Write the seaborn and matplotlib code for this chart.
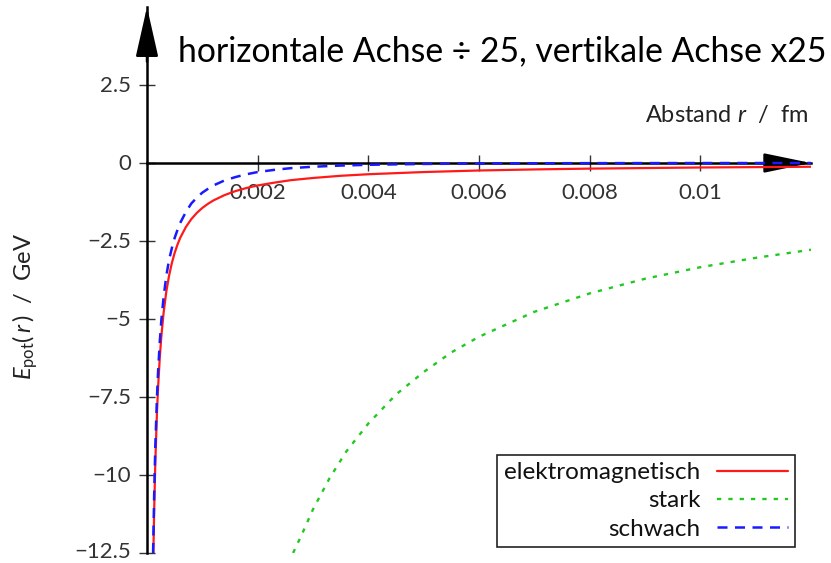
import matplotlib
matplotlib.use("Agg")
import matplotlib.pyplot as plt
import matplotlib.transforms as mtransforms
import seaborn as sns
import pandas as pd

# ---- data ----
r_em = [0.000115, 0.00013, 0.00015, 0.00018, 0.0002, 0.00023, 0.00026, 0.0003, 0.00035,
        0.0004, 0.00045, 0.0005, 0.00055, 0.0006, 0.0007, 0.0008, 0.0009, 0.001, 0.0011,
        0.0012, 0.0014, 0.0016, 0.0018, 0.002, 0.0023, 0.0026, 0.003, 0.0035, 0.004,
        0.005, 0.006, 0.007, 0.008, 0.01, 0.012]
e_em = [-12.5, -11.1, -9.6, -8.0, -7.2, -6.26, -5.54, -4.8, -4.11,
        -3.6, -3.2, -2.88, -2.62, -2.4, -2.06, -1.8, -1.6, -1.44, -1.31,
        -1.2, -1.03, -0.9, -0.8, -0.72, -0.63, -0.55, -0.48, -0.41, -0.36,
        -0.29, -0.24, -0.206, -0.18, -0.144, -0.12]

r_strong = [0.00264, 0.0028, 0.003, 0.0033, 0.0036, 0.004, 0.0045, 0.005, 0.0055,
            0.006, 0.007, 0.008, 0.009, 0.01, 0.011, 0.012]
e_strong = [-12.5, -11.9, -11.1, -10.1, -9.25, -8.35, -7.42, -6.7, -6.07,
            -5.57, -4.77, -4.18, -3.71, -3.34, -3.04, -2.78]

r_weak = [0.00011, 0.00013, 0.00015, 0.00018, 0.0002, 0.00023, 0.00026, 0.0003, 0.00035,
          0.0004, 0.00045, 0.0005, 0.00055, 0.0006, 0.0007, 0.0008, 0.0009, 0.001, 0.0011,
          0.0012, 0.0014, 0.0016, 0.0018, 0.002, 0.0023, 0.0026, 0.003, 0.0035, 0.004,
          0.005, 0.006, 0.007, 0.008, 0.01, 0.012]
e_weak = [-12.5, -10.6, -9.1, -7.5, -6.7, -5.75, -5.02, -4.3, -3.6,
          -3.1, -2.72, -2.4, -2.15, -1.92, -1.58, -1.3, -1.11, -0.95, -0.83,
          -0.72, -0.56, -0.45, -0.36, -0.29, -0.22, -0.165, -0.12, -0.082, -0.058,
          -0.03, -0.016, -0.009, -0.005, -0.0015, -0.0005]

series_labels = ["elektromagnetisch", "stark", "schwach"]
x_ticks = [0.002, 0.004, 0.006, 0.008, 0.01]
x_ticklabels = ["0.002", "0.004", "0.006", "0.008", "0.01"]
y_ticks = [2.5, 0, -2.5, -5, -7.5, -10, -12.5]
y_ticklabels = ["2.5", "0", "\u22122.5", "\u22125", "\u22127.5", "\u221210", "\u221212.5"]
title_text = "horizontale Achse \u00f7 25, vertikale Achse x25"

sns.set_theme(style="white")
plt.rcParams["font.family"] = ["Lato", "DejaVu Sans"]
plt.rcParams["mathtext.fontset"] = "custom"
plt.rcParams["mathtext.rm"] = "Lato"
plt.rcParams["mathtext.it"] = "Lato:italic"
plt.rcParams["mathtext.bf"] = "Lato:bold"

W, H = 831, 563
fig = plt.figure(figsize=(W / 100, H / 100), dpi=100)
left_px, right_px, top_px, bot_px = 147, 811, 7, 553
ax = fig.add_axes([left_px / W, 1 - bot_px / H, (right_px - left_px) / W, (bot_px - top_px) / H])

df_em = pd.DataFrame({"r": r_em, "E": e_em})
df_st = pd.DataFrame({"r": r_strong, "E": e_strong})
df_wk = pd.DataFrame({"r": r_weak, "E": e_weak})

sns.lineplot(data=df_em, x="r", y="E", ax=ax, color="#ff1a1a", lw=1.6,
             label=series_labels[0], zorder=3)
sns.lineplot(data=df_st, x="r", y="E", ax=ax, color="#22c822", lw=1.7,
             linestyle=(0, (1.8, 3.0)), label=series_labels[1], zorder=3)
sns.lineplot(data=df_wk, x="r", y="E", ax=ax, color="#1a1aff", lw=1.8,
             linestyle=(0, (4.0, 3.0)), label=series_labels[2], zorder=3.1)

ax.set_xlim(0, 0.012)
ax.set_ylim(-12.5, 5.0)

for s in ["top", "right"]:
    ax.spines[s].set_visible(False)
ax.spines["left"].set_position(("data", 0))
ax.spines["bottom"].set_position(("data", 0))
for s in ["left", "bottom"]:
    ax.spines[s].set_color("black")
    ax.spines[s].set_linewidth(1.8)
    ax.spines[s].set_zorder(2.5)

ax.set_xticks(x_ticks)
ax.set_xticklabels(x_ticklabels)
ax.set_yticks(y_ticks)
ax.set_yticklabels(y_ticklabels)
ax.tick_params(axis="both", direction="inout", length=11, width=1.0, color="#333333",
               labelsize=16, labelcolor="#333333")
ax.tick_params(axis="x", pad=9)
ax.tick_params(axis="y", pad=6)
ax.xaxis.set_ticks_position("bottom")
ax.yaxis.set_ticks_position("left")
ylabs = ax.get_yticklabels()
for i, lab in enumerate(ylabs):
    lab.set_verticalalignment("baseline")
    shift_px = 7.5 if i < len(ylabs) - 1 else 4.5
    lab.set_transform(lab.get_transform() +
                      mtransforms.ScaledTranslation(0, -shift_px / 100, fig.dpi_scale_trans))

# arrow heads on the axes
ax.annotate("", xy=(1.0, 0), xycoords=("axes fraction", "data"),
            xytext=(0.93, 0), textcoords=("axes fraction", "data"),
            arrowprops=dict(arrowstyle="-|>,head_length=29,head_width=6",
                            mutation_scale=1, color="black", lw=1.8, shrinkA=0, shrinkB=0),
            zorder=2.6)
ax.annotate("", xy=(0, 1.0), xycoords=("data", "axes fraction"),
            xytext=(0, 0.9), textcoords=("data", "axes fraction"),
            arrowprops=dict(arrowstyle="-|>,head_length=31,head_width=7",
                            mutation_scale=1, color="black", lw=1.8, shrinkA=0, shrinkB=0),
            zorder=2.6)

ax.set_xlabel("")
ax.set_ylabel(r"$E_{\mathrm{pot}}(\,r\,)$  /  GeV", fontsize=17, color="#222222")
ax.yaxis.label.set_verticalalignment("center")
ax.yaxis.set_label_coords((25 - left_px) / (right_px - left_px), (bot_px - 306) / (bot_px - top_px))

fig.text(808 / W, 1 - 115 / H, r"Abstand $r$  /  fm", ha="right", va="center",
         fontsize=17, color="#222222")

fig.text(178 / W, 1 - 61 / H, title_text, ha="left", va="baseline",
         fontsize=24.3, color="black")

leg = ax.legend(loc="lower right", bbox_to_anchor=(0.976, 0.011), markerfirst=False,
                frameon=True, fancybox=False, edgecolor="#222222", framealpha=1,
                handlelength=2.9, handletextpad=0.7, borderpad=0.3, labelspacing=0.3,
                borderaxespad=0, fontsize=17.5)
leg.get_frame().set_linewidth(1.2)
for t in leg.get_texts():
    t.set_color("#111111")

fig.savefig("out.png", dpi=100)
